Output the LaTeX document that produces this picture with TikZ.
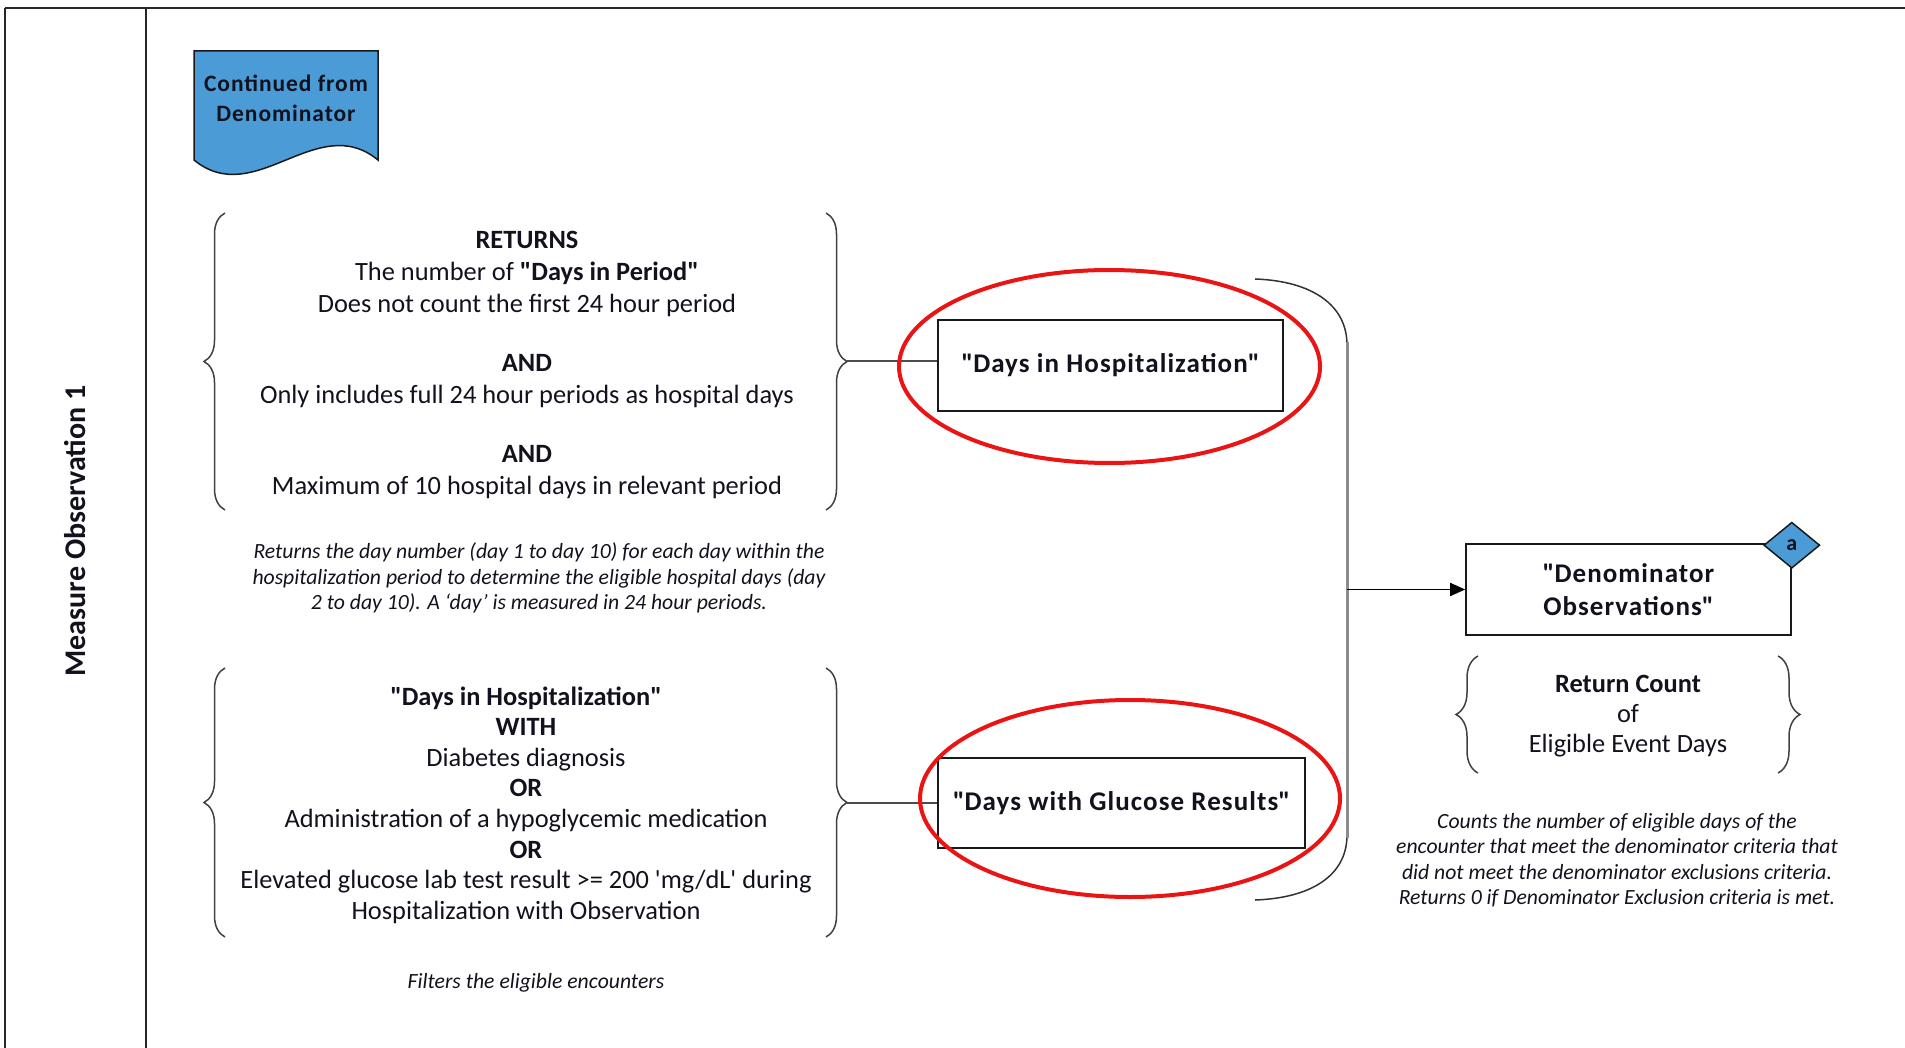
\documentclass[tikz,border=0pt]{standalone}
\usepackage{fontspec}
\setmainfont{Carlito}
\newfontfamily\boxfont{Carlito}[LetterSpace=4]
\usetikzlibrary{shapes.geometric, arrows.meta, decorations.pathreplacing}

\definecolor{ink}{RGB}{18,18,30}
\definecolor{flowblue}{RGB}{75,155,215}
\definecolor{ringred}{RGB}{235,20,20}

\begin{document}
\begin{tikzpicture}[x=1pt, y=-1pt,
  frame/.style={draw=black!85, line width=2pt},
  procbox/.style={draw=black!90, line width=1.6pt, fill=white, inner sep=0pt,
    align=center, text=ink, font=\boxfont\bfseries\fontsize{27}{33}\selectfont},
  ring/.style={ellipse, draw=ringred, line width=4pt, inner sep=0pt},
  curly/.style={decorate, decoration={brace, amplitude=21pt}, draw=black!75, line width=1.5pt},
  smallcurly/.style={decorate, decoration={brace, amplitude=22pt}, draw=black!75, line width=1.5pt},
  link/.style={draw=black!70, line width=1.6pt},
  body/.style={align=center, text=ink, font=\fontsize{26.4}{32}\selectfont},
  note/.style={align=center, text=ink, font=\itshape\fontsize{21.7}{25.5}\selectfont},
  bracketarc/.style={draw=black!80, line width=1.5pt},
  bracketspine/.style={draw=black!45, line width=3pt},
  flow/.style={draw=black, line width=1.6pt, -{Triangle[length=15pt, width=13pt]}}
]
\useasboundingbox (0,0) rectangle (1905,1048);

% swimlane frame
\draw[frame] (5,8.5) -- (1905,8.5);
\draw[frame] (5,8.5) -- (5,1048);
\draw[frame] (146,8.5) -- (146,1048);
\node[rotate=90, text=ink, font=\bfseries\fontsize{30}{36}\selectfont] (vlabel) at (75,531) {Measure Observation 1};

% off-page connector (document shape)
\draw[draw=black!90, line width=1.5pt, fill=flowblue]
  (194,51) -- (378,51) -- (378,160)
  .. controls (317,110) and (255,210) .. (194,160) -- cycle;
\node[align=center, text=ink, font=\boxfont\bfseries\fontsize{23.5}{30}\selectfont] (contd) at (286,98) {Continued from\\Denominator};

% first definition block
\node[body] (spec1) at (527,365) {\textbf{RETURNS}\\
  The number of \textbf{\textquotedbl Days in Period\textquotedbl}\\
  Does not count the first 24 hour period\\[27pt]
  \textbf{AND}\\
  Only includes full 24 hour periods as hospital days\\[27pt]
  \textbf{AND}\\
  Maximum of 10 hospital days in relevant period};
\draw[curly] (225,510) -- (225,213);
\draw[curly] (826,213) -- (826,510);
\coordinate (b1tip) at (847,361);

\node[note] (note1) at (539,578) {Returns the day number (day 1 to day 10) for each day within the\\
  hospitalization period to determine the eligible hospital days (day\\
  2 to day 10). A `day' is measured in 24 hour periods.};

% second definition block
\node[body, font=\fontsize{26.4}{30.6}\selectfont] (spec2) at (526,805) {\textbf{\textquotedbl Days in Hospitalization\textquotedbl}\\
  \textbf{WITH}\\
  Diabetes diagnosis\\
  \textbf{OR}\\
  Administration of a hypoglycemic medication\\
  \textbf{OR}\\
  Elevated glucose lab test result >= 200 \textquotesingle mg/dL\textquotesingle{} during\\
  Hospitalization with Observation};
\draw[curly] (225,937) -- (225,668);
\draw[curly] (826,668) -- (826,937);
\coordinate (b2tip) at (847,803);

\node[note] (note2) at (536,983) {Filters the eligible encounters};

% definition boxes
\node[procbox, minimum width=345pt, minimum height=91pt] (hosp) at (1110.5,365.5) {\textquotedbl Days in Hospitalization\textquotedbl};
\node[procbox, minimum width=367pt, minimum height=90pt] (gluc) at (1121.5,803) {\textquotedbl Days with Glucose Results\textquotedbl};
\draw[link] (b1tip) -- (b1tip -| hosp.west);
\draw[link] (b2tip) -- (b2tip -| gluc.west);

% highlight rings
\node[ring, minimum width=421pt, minimum height=193pt] (ring1) at (1109.5,366.5) {};
\node[ring, minimum width=420pt, minimum height=197pt] (ring2) at (1130,798.5) {};

% combining bracket
\coordinate (brtop) at (1255,279);
\coordinate (brbot) at (1255,900);
\coordinate (join) at (1347,589.5);
\draw[bracketarc] (brtop) .. controls (1312,281) and (1347,305) .. (1347,345);
\draw[bracketarc] (1347,835) .. controls (1347,875) and (1312,898) .. (brbot);
\draw[bracketspine] (1347,342) -- (1347,838);

% result box
\node[procbox, minimum width=325pt, minimum height=91pt] (denom) at (1628.5,589.5) {\textquotedbl Denominator\\Observations\textquotedbl};
\draw[flow] (join) -- (denom.west);
\node[diamond, draw=black!90, line width=1.5pt, fill=flowblue, minimum width=56pt, minimum height=46pt,
  aspect=1.25, inner sep=0pt, text=ink, font=\bfseries\fontsize{22}{26}\selectfont] (tag) at ([yshift=-2pt]denom.north east) {a};

\node[body, font=\fontsize{26.4}{30}\selectfont] (spec3) at (1628,716) {\textbf{Return Count}\\of\\Eligible Event Days};
\draw[smallcurly] (1478,773) -- (1478,656);
\draw[smallcurly] (1778,656) -- (1778,773);

\node[note] (note3) at (1617,860) {Counts the number of eligible days of the\\
  encounter that meet the denominator criteria that\\
  did not meet the denominator exclusions criteria.\\
  Returns 0 if Denominator Exclusion criteria is met.};

\end{tikzpicture}
\end{document}
